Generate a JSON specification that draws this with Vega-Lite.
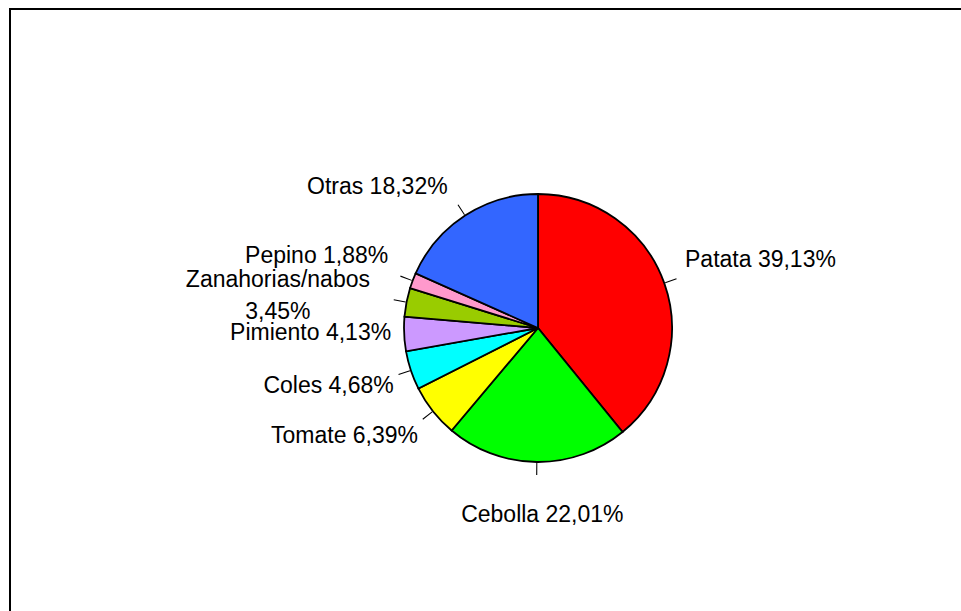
{
  "$schema": "https://vega.github.io/schema/vega-lite/v6.json",
  "autosize": {"type": "none"},
  "width": 1056,
  "height": 638,
  "padding": {"left": 10, "top": 9, "right": -105, "bottom": -36},
  "background": "white",
  "view": {"stroke": "black", "strokeWidth": 2, "fill": "white"},
  "config": {"view": {"stroke": "black", "strokeWidth": 2}},
  "data": {
    "values": [
      {"cat": "Patata", "value": 39.13, "order": 1, "label": "Patata 39,13%"},
      {"cat": "Cebolla", "value": 22.01, "order": 2, "label": "Cebolla 22,01%"},
      {"cat": "Tomate", "value": 6.39, "order": 3, "label": "Tomate 6,39%"},
      {"cat": "Coles", "value": 4.68, "order": 4, "label": "Coles 4,68%"},
      {"cat": "Pimiento", "value": 4.13, "order": 5, "label": "Pimiento 4,13%"},
      {"cat": "Zanahorias/nabos", "value": 3.45, "order": 6, "label": "Zanahorias/nabos\n3,45%"},
      {"cat": "Pepino", "value": 1.88, "order": 7, "label": "Pepino 1,88%"},
      {"cat": "Otras", "value": 18.32, "order": 8, "label": "Otras 18,32%"}
    ]
  },
  "transform": [
    {"window": [{"op": "sum", "field": "value", "as": "cum"}], "sort": [{"field": "order"}], "frame": [null, 0]},
    {"calculate": "datum.cum - datum.value / 2", "as": "mid"},
    {"calculate": "datum.mid - 0.06", "as": "t1"},
    {"calculate": "datum.mid + 0.06", "as": "t2"}
  ],
  "layer": [
    {
      "mark": {"type": "arc", "outerRadius": 134, "stroke": "black", "strokeWidth": 1.8},
      "encoding": {
        "theta": {"field": "value", "type": "quantitative", "stack": true},
        "order": {"field": "order", "type": "quantitative"},
        "color": {
          "field": "cat", "type": "nominal", "legend": null,
          "scale": {
            "domain": ["Patata", "Cebolla", "Tomate", "Coles", "Pimiento", "Zanahorias/nabos", "Pepino", "Otras"],
            "range": ["#FF0000", "#00FF00", "#FFFF00", "#00FFFF", "#CC99FF", "#99CC00", "#FF99CC", "#3366FF"]
          }
        }
      }
    },
    {
      "transform": [{"filter": "datum.cat !== 'Pimiento'"}],
      "mark": {"type": "arc", "innerRadius": 135, "outerRadius": 147, "fill": "black"},
      "encoding": {
        "theta": {"field": "t1", "type": "quantitative", "stack": null},
        "theta2": {"field": "t2"}
      }
    },
    {
      "transform": [{"filter": "datum.cat === 'Patata'"}],
      "mark": {"type": "text", "radius": 156, "align": "left", "baseline": "middle", "dy": -16, "font": "Liberation Sans", "fontSize": 23},
      "encoding": {"theta": {"field": "mid", "type": "quantitative", "stack": null}, "text": {"field": "label"}}
    },
    {
      "transform": [{"filter": "datum.cat === 'Cebolla'"}],
      "mark": {"type": "text", "radius": 187, "align": "center", "baseline": "middle", "dx": 6, "font": "Liberation Sans", "fontSize": 23},
      "encoding": {"theta": {"field": "mid", "type": "quantitative", "stack": null}, "text": {"field": "label"}}
    },
    {
      "transform": [{"filter": "datum.cat === 'Tomate'"}],
      "mark": {"type": "text", "radius": 153, "align": "right", "baseline": "middle", "dy": 13, "font": "Liberation Sans", "fontSize": 23},
      "encoding": {"theta": {"field": "mid", "type": "quantitative", "stack": null}, "text": {"field": "label"}}
    },
    {
      "transform": [{"filter": "datum.cat === 'Coles'"}],
      "mark": {"type": "text", "radius": 152, "align": "right", "baseline": "middle", "dy": 10, "font": "Liberation Sans", "fontSize": 23},
      "encoding": {"theta": {"field": "mid", "type": "quantitative", "stack": null}, "text": {"field": "label"}}
    },
    {
      "transform": [{"filter": "datum.cat === 'Pimiento'"}],
      "mark": {"type": "text", "radius": 147, "align": "right", "baseline": "middle", "dy": -2, "font": "Liberation Sans", "fontSize": 23},
      "encoding": {"theta": {"field": "mid", "type": "quantitative", "stack": null}, "text": {"field": "label"}}
    },
    {
      "transform": [{"filter": "datum.cat === 'Zanahorias/nabos'"}],
      "mark": {"type": "text", "radius": 265, "align": "center", "baseline": "middle", "dy": 3, "lineBreak": "\n", "lineHeight": 32, "font": "Liberation Sans", "fontSize": 23},
      "encoding": {"theta": {"field": "mid", "type": "quantitative", "stack": null}, "text": {"field": "label"}}
    },
    {
      "transform": [{"filter": "datum.cat === 'Pepino'"}],
      "mark": {"type": "text", "radius": 160, "align": "right", "baseline": "middle", "dy": -16, "font": "Liberation Sans", "fontSize": 23},
      "encoding": {"theta": {"field": "mid", "type": "quantitative", "stack": null}, "text": {"field": "label"}}
    },
    {
      "transform": [{"filter": "datum.cat === 'Otras'"}],
      "mark": {"type": "text", "radius": 166, "align": "right", "baseline": "middle", "dy": -2, "font": "Liberation Sans", "fontSize": 23},
      "encoding": {"theta": {"field": "mid", "type": "quantitative", "stack": null}, "text": {"field": "label"}}
    }
  ]
}
